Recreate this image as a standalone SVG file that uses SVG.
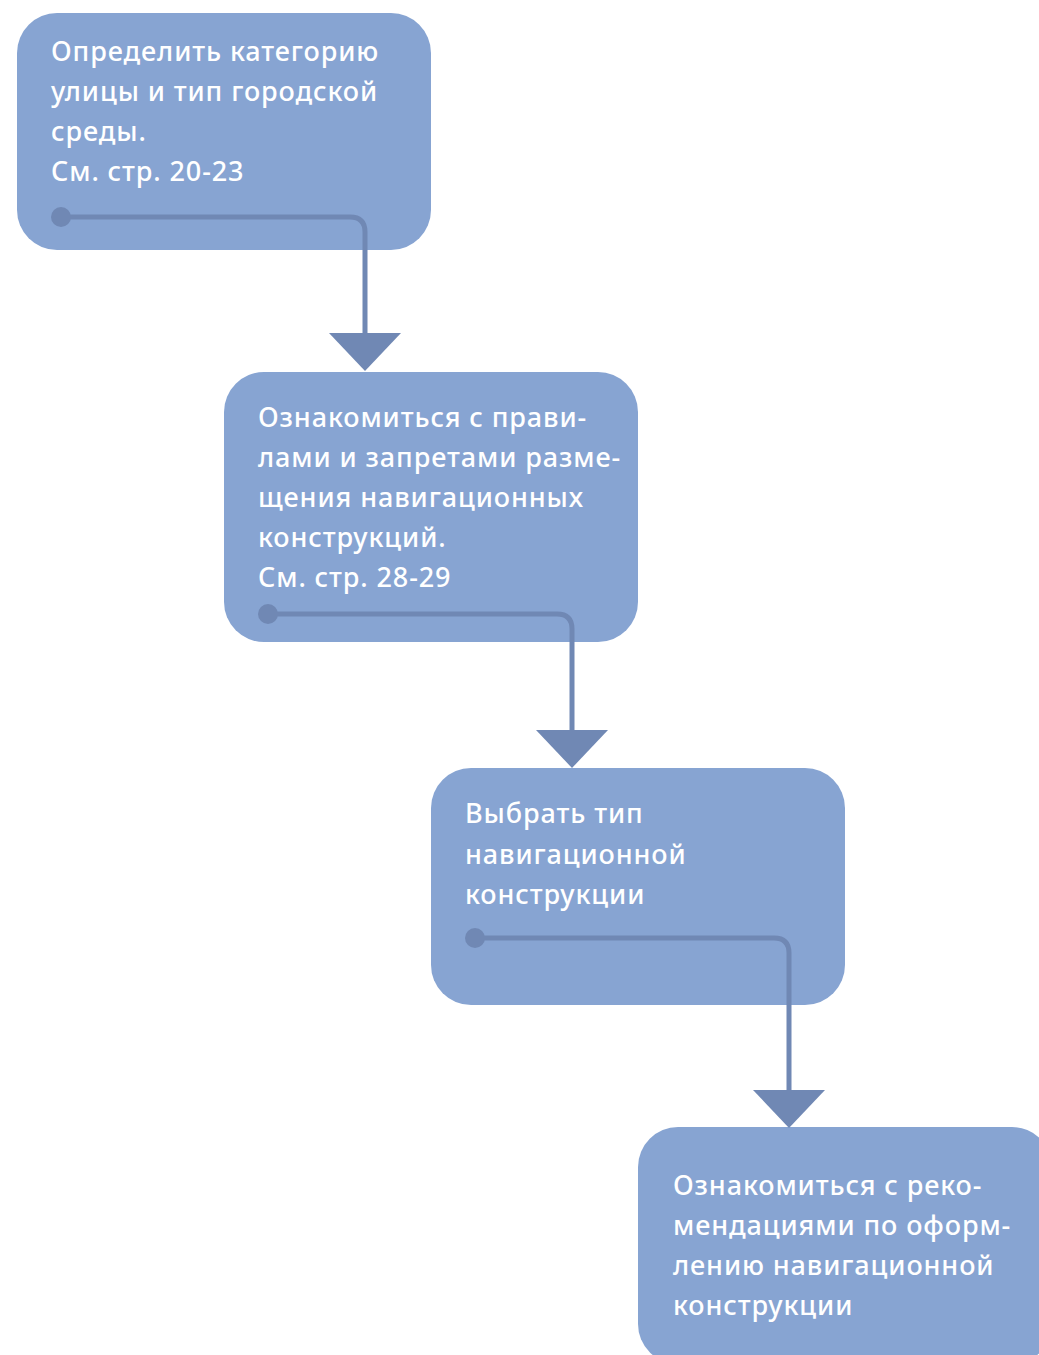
<svg xmlns="http://www.w3.org/2000/svg" width="1039" height="1355" viewBox="0 0 1039 1355">
<style>
.box{fill:#87a4d2}
.t{font-family:"Noto Sans","Open Sans",sans-serif;font-size:27px;font-weight:500;fill:#ffffff;letter-spacing:0.9px}
.ln{fill:none;stroke:#7088b4;stroke-width:5}
.dot{fill:#7088b4}
.ah{fill:#7088b4}
</style>
<rect width="1039" height="1355" fill="#ffffff"/>
<g id="node1">
<rect class="box" x="17" y="13" width="414" height="237" rx="40"/>
<text class="t" x="51" y="61">Определить категорию</text>
<text class="t" x="51" y="101">улицы и тип городской</text>
<text class="t" x="51" y="141">среды.</text>
<text class="t" x="51" y="181">См. стр. 20-23</text>
</g>
<g id="node2">
<rect class="box" x="224" y="372" width="414" height="270" rx="40"/>
<text class="t" x="258" y="427">Ознакомиться с прави-</text>
<text class="t" x="258" y="467">лами и запретами разме-</text>
<text class="t" x="258" y="507">щения навигационных</text>
<text class="t" x="258" y="547">конструкций.</text>
<text class="t" x="258" y="587">См. стр. 28-29</text>
</g>
<g id="node3">
<rect class="box" x="431" y="768" width="414" height="237" rx="40"/>
<text class="t" x="465" y="823">Выбрать тип</text>
<text class="t" x="465" y="864">навигационной</text>
<text class="t" x="465" y="904">конструкции</text>
</g>
<g id="node4">
<rect class="box" x="638" y="1127" width="414" height="237" rx="40"/>
<text class="t" x="673" y="1195">Ознакомиться с реко-</text>
<text class="t" x="673" y="1235">мендациями по оформ-</text>
<text class="t" x="673" y="1275">лению навигационной</text>
<text class="t" x="673" y="1315">конструкции</text>
</g>
<g id="connectors">
<circle class="dot" cx="61" cy="217" r="10"/>
<path class="ln" d="M61 217 H350 Q365 217 365 232 V336"/>
<polygon class="ah" points="329,333 401,333 365,371"/>
<circle class="dot" cx="268" cy="614" r="10"/>
<path class="ln" d="M268 614 H557 Q572 614 572 629 V733"/>
<polygon class="ah" points="536,730 608,730 572,768"/>
<circle class="dot" cx="475" cy="938" r="10"/>
<path class="ln" d="M475 938 H774 Q789 938 789 953 V1093"/>
<polygon class="ah" points="753,1090 825,1090 789,1128"/>
</g>
</svg>
